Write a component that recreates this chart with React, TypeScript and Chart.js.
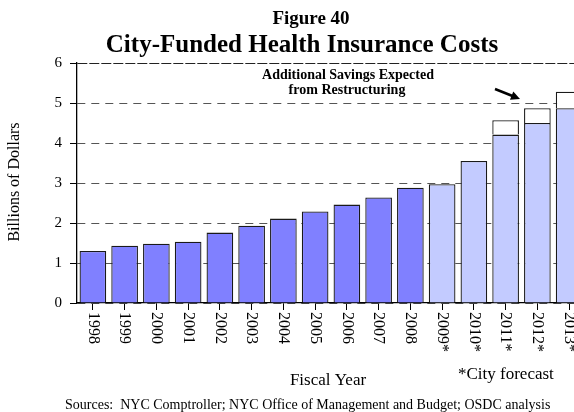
import React, { useEffect, useRef } from "react";
import { Chart, registerables } from "chart.js";

Chart.register(...registerables);

const categories = [
  "1998", "1999", "2000", "2001", "2002", "2003", "2004", "2005",
  "2006", "2007", "2008", "2009*", "2010*", "2011*", "2012*", "2013*",
];
const costs = [
  1.3, 1.43, 1.48, 1.53, 1.76, 1.93, 2.11, 2.29,
  2.46, 2.64, 2.88, 2.97, 3.55, 4.21, 4.5, 4.87,
];
const savings = [
  null, null, null, null, null, null, null, null,
  null, null, null, null, null, 0.36, 0.37, 0.41,
];
const yMin = 0;
const yMax = 6;
const yStep = 1;

const actualColor = "#8080FF";
const forecastColor = "#C3CBFF";
const serif = "'Liberation Serif', 'Times New Roman', serif";

const textPlugin = {
  id: "textPlugin",
  afterDraw(chart: any) {
    const ctx = chart.ctx as CanvasRenderingContext2D;
    const xs = chart.scales.x;
    const area = chart.chartArea;
    ctx.save();
    ctx.fillStyle = "#000";

    // rotated x labels
    ctx.font = `16px ${serif}`;
    ctx.textAlign = "left";
    ctx.textBaseline = "middle";
    categories.forEach((c, i) => {
      const x = xs.getPixelForValue(i);
      ctx.save();
      ctx.translate(x, area.bottom + 9);
      ctx.rotate(Math.PI / 2);
      ctx.fillText(c, 0, 0);
      ctx.restore();
    });

    // titles
    ctx.textAlign = "center";
    ctx.textBaseline = "alphabetic";
    ctx.font = `bold 19px ${serif}`;
    ctx.fillText("Figure 40", 311, 24);
    ctx.font = `bold 25px ${serif}`;
    ctx.fillText("City-Funded Health Insurance Costs", 302, 52);

    // annotation
    ctx.font = `bold 14px ${serif}`;
    ctx.fillText("Additional Savings Expected", 348, 79);
    ctx.fillText("from Restructuring", 347, 94);

    // arrow
    const x1 = 495, y1 = 89, x2 = 520, y2 = 99;
    const ang = Math.atan2(y2 - y1, x2 - x1);
    ctx.strokeStyle = "#000";
    ctx.lineWidth = 2.5;
    ctx.beginPath();
    ctx.moveTo(x1, y1);
    ctx.lineTo(x2 - 6 * Math.cos(ang), y2 - 6 * Math.sin(ang));
    ctx.stroke();
    ctx.beginPath();
    ctx.moveTo(x2, y2);
    ctx.lineTo(x2 - 9 * Math.cos(ang) + 4.5 * Math.sin(ang), y2 - 9 * Math.sin(ang) - 4.5 * Math.cos(ang));
    ctx.lineTo(x2 - 9 * Math.cos(ang) - 4.5 * Math.sin(ang), y2 - 9 * Math.sin(ang) + 4.5 * Math.cos(ang));
    ctx.closePath();
    ctx.fill();

    // y axis title
    ctx.font = `16px ${serif}`;
    ctx.save();
    ctx.translate(15, 182);
    ctx.rotate(-Math.PI / 2);
    ctx.textBaseline = "middle";
    ctx.fillText("Billions of Dollars", 0, 0);
    ctx.restore();

    // x axis title
    ctx.font = `17px ${serif}`;
    ctx.fillText("Fiscal Year", 328, 385);
    ctx.textAlign = "left";
    ctx.fillText("*City forecast", 458, 379);

    // sources
    ctx.font = `14px ${serif}`;
    ctx.fillText(
      "Sources:  NYC Comptroller; NYC Office of Management and Budget; OSDC analysis",
      65,
      409
    );
    ctx.restore();
  },
};

export default function App() {
  const ref = useRef<HTMLCanvasElement | null>(null);
  useEffect(() => {
    if (!ref.current) return;
    const chart = new Chart(ref.current, {
      type: "bar",
      data: {
        labels: categories,
        datasets: [
          {
            label: "Health insurance costs",
            data: costs,
            backgroundColor: categories.map((c) => (c.endsWith("*") ? forecastColor : actualColor)),
            borderColor: "#1a1a1a",
            borderWidth: 1.3,
            barPercentage: 0.84,
            categoryPercentage: 1,
          },
          {
            label: "Additional savings expected",
            data: savings as any,
            backgroundColor: "#ffffff",
            borderColor: "#1a1a1a",
            borderWidth: 1.3,
            barPercentage: 0.84,
            categoryPercentage: 1,
          },
        ],
      },
      options: {
        responsive: false,
        animation: false,
        layout: { padding: { left: 0, right: 15, top: 63, bottom: 0 } },
        plugins: {
          legend: { display: false },
          tooltip: { enabled: false },
          title: { display: false },
        },
        scales: {
          x: {
            stacked: true,
            offset: true,
            grid: {
              display: true,
              drawOnChartArea: false,
              drawTicks: true,
              tickLength: 7,
              tickColor: "#000",
              offset: false,
            },
            border: { display: true, color: "#000", width: 1.3 },
            ticks: { display: false },
            afterFit: (s: any) => {
              s.height = 109;
            },
          },
          y: {
            stacked: true,
            min: yMin,
            max: yMax,
            ticks: {
              stepSize: yStep,
              color: "#000",
              font: { family: serif, size: 15 },
              padding: 8,
            },
            grid: {
              color: (c: any) => (c.tick && c.tick.value === yMax ? "#222" : "#555"),
              lineWidth: 1,
              tickLength: 7,
              tickColor: "#000",
            },
            border: {
              display: true,
              color: "#000",
              width: 1.3,
              dash: (c: any) => (c.tick && c.tick.value === yMax ? [10, 2] : [8, 6]),
            },
            afterFit: (s: any) => {
              s.width = 77;
            },
          },
        },
      },
      plugins: [textPlugin],
    });
    return () => chart.destroy();
  }, []);
  return (
    <div
      style={{
        position: "fixed",
        left: 0,
        top: 0,
        width: 574,
        height: 412,
        overflow: "hidden",
        background: "#fff",
      }}
    >
      <canvas ref={ref} width={600} height={412} style={{ display: "block" }} />
    </div>
  );
}
